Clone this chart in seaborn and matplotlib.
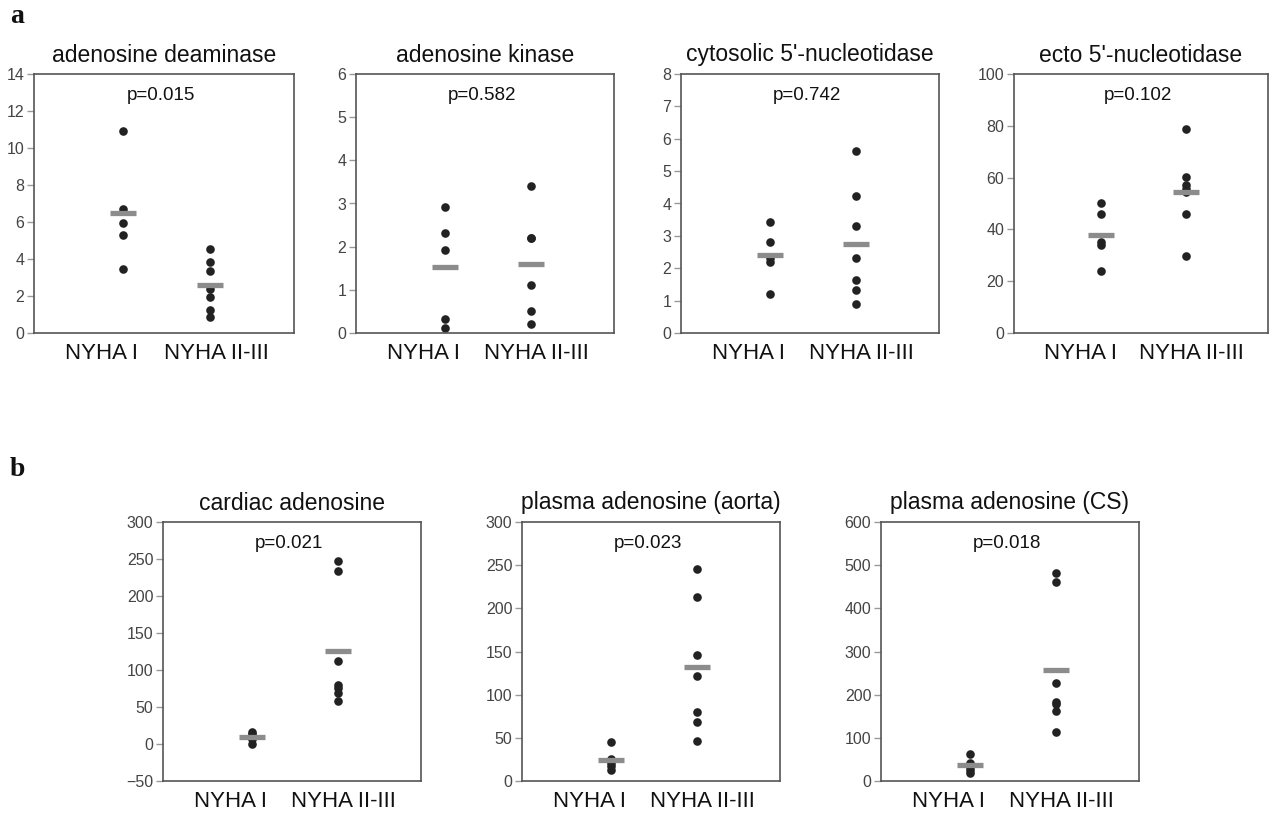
import matplotlib
matplotlib.use("Agg")
import matplotlib.pyplot as plt
import pandas as pd
import seaborn as sns

groups = ["NYHA I", "NYHA II-III"]

# panel a
ada_1 = [10.94, 6.72, 5.95, 5.32, 3.44]
ada_2 = [4.54, 3.84, 3.33, 2.38, 1.93, 1.26, 0.85]
adk_1 = [2.91, 2.32, 1.92, 0.32, 0.12]
adk_2 = [3.41, 2.21, 2.19, 1.11, 0.52, 0.22]
cn_1 = [3.42, 2.82, 2.33, 2.19, 1.22]
cn_2 = [5.61, 4.22, 3.32, 2.31, 1.63, 1.33, 0.91]
ecto_1 = [50.1, 45.9, 35.0, 33.8, 24.1]
ecto_2 = [78.9, 60.1, 57.0, 55.5, 54.5, 45.9, 29.9]

# panel b
cardiac_1 = [16, 13, 10, 7, 0]
cardiac_2 = [247.8, 234.3, 112, 79.6, 76, 68.8, 58.4]
aorta_1 = [45.6, 25, 21, 17, 13]
aorta_2 = [245.8, 212.6, 146.1, 122.2, 79.6, 68.8, 46.4]
cs_1 = [63, 42, 33, 25, 18]
cs_2 = [481, 460, 226, 183, 178, 162, 114]

titles = ["adenosine deaminase", "adenosine kinase", "cytosolic 5'-nucleotidase",
          "ecto 5'-nucleotidase", "cardiac adenosine", "plasma adenosine (aorta)",
          "plasma adenosine (CS)"]
pvals = ["p=0.015", "p=0.582", "p=0.742", "p=0.102", "p=0.021", "p=0.023", "p=0.018"]
yticks = [range(0, 15, 2), range(0, 7), range(0, 9), range(0, 101, 20),
          range(-50, 301, 50), range(0, 301, 50), range(0, 601, 100)]
series = [(ada_1, ada_2), (adk_1, adk_2), (cn_1, cn_2), (ecto_1, ecto_2),
          (cardiac_1, cardiac_2), (aorta_1, aorta_2), (cs_1, cs_2)]

sns.set_style("white")
plt.rcParams["font.family"] = ["Liberation Sans", "DejaVu Sans"]

W, H = 1270, 813
fig = plt.figure(figsize=(12.7, 8.13), dpi=100)

# axes boxes in pixels: left, top, width, height
boxes = [(34, 74, 260, 259), (356, 74, 258, 259), (681, 74, 258, 259), (1014, 74, 254, 259),
         (163, 522, 258, 259), (522, 522, 258, 259), (881, 522, 258, 259)]


def draw_panel(ax, g1, g2, title, ptext, ticks):
    df = pd.DataFrame({"group": [groups[0]] * len(g1) + [groups[1]] * len(g2),
                       "value": list(g1) + list(g2)})
    sns.stripplot(data=df, x="group", y="value", order=groups, jitter=False,
                  color="#222222", size=6.2, linewidth=0, ax=ax, zorder=2)
    # grey bar = group mean
    sns.pointplot(data=df, x="group", y="value", order=groups, estimator="mean",
                  errorbar=None, markers="_", linestyle="none", color="#8c8c8c",
                  markersize=19, markeredgewidth=3.8, ax=ax, zorder=3)
    ax.set_xlim(-1.03, 1.97)
    ax.set_ylim(ticks[0], ticks[-1])
    ax.set_yticks(list(ticks))
    ax.set_xticks([-0.25, 1.07])
    ax.set_xticklabels(groups, fontsize=16, color="#111111")
    ax.tick_params(axis="x", length=0, pad=7)
    ax.tick_params(axis="y", length=5, width=1, color="#999999", labelsize=11.5,
                   labelcolor="#444444", pad=2, left=True)
    ax.set_xlabel("")
    ax.set_ylabel("")
    for sp in ax.spines.values():
        sp.set_visible(True)
        sp.set_color("#555555")
        sp.set_linewidth(1.2)
    ax.set_title(title, fontsize=16.5, pad=9, color="#111111")
    ax.text(0.49, 0.917, ptext, transform=ax.transAxes, ha="center", va="center",
            fontsize=13.5, color="#111111")


for (l, t, w, h), (g1, g2), title, ptext, ticks in zip(boxes, series, titles, pvals, yticks):
    ax = fig.add_axes([l / W, (H - t - h) / H, w / W, h / H])
    draw_panel(ax, g1, g2, title, ptext, ticks)

fig.text(10 / W, 1 - 23 / H, "a", fontsize=20, fontweight="bold",
         family="Liberation Serif", color="#111111")
fig.text(10 / W, 1 - 476 / H, "b", fontsize=20, fontweight="bold",
         family="Liberation Serif", color="#111111")

fig.savefig("out.png", dpi=100)
